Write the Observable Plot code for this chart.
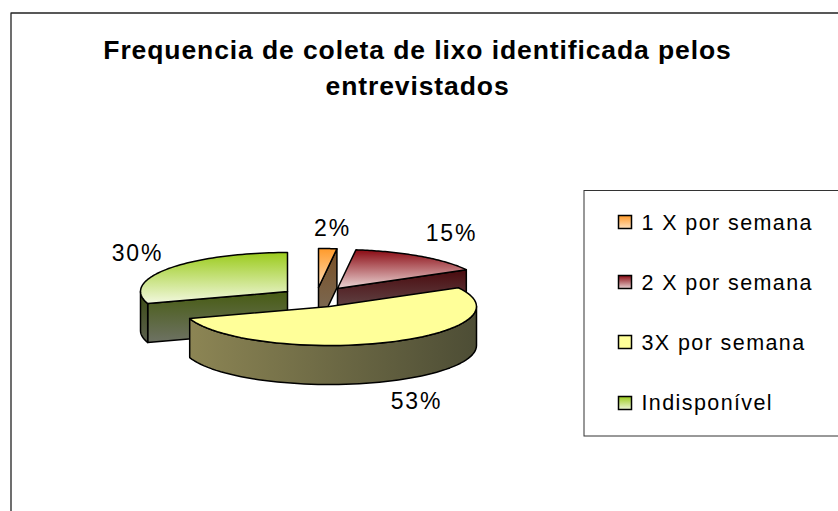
<!DOCTYPE html>
<html><head><meta charset="utf-8">
<script src="https://cdn.jsdelivr.net/npm/d3@7"></script>
<script src="https://cdn.jsdelivr.net/npm/@observablehq/plot@0.6"></script>
<style>
html,body{margin:0;padding:0;background:#fff;overflow:hidden}
svg{display:block;font-family:"Liberation Sans",Arial,sans-serif}
g[font-size="26.5"] text{letter-spacing:.9px}
g[font-size="21.5"] text{letter-spacing:1.4px}
g[font-size="23"] text{letter-spacing:1.8px}
</style></head><body>
<script>
const categories = ["1 X por semana", "2 X por semana", "3X por semana", "Indisponível"];
const shares = [2, 15, 53, 30];
const titleLines = ["Frequencia de coleta de lixo identificada pelos", "entrevistados"];

// layout of the exploded 3D pie, in chart units
const rx = 147, ry = 39, depth = 39;
const apexX = [318, 337, 329, 287];
const apexY = [287, 288, 306, 291];
const topGrad = ["gOrange", "gRed", "gYellow", "gGreen"];
const wallGrad = ["gOrangeW", "gRedW", null, "gGreenW"];
const rimGrad = [null, null, "gYellowR", "gGreenR"];

const arcs = d3.pie().sort(null)(shares);
const rim = (i, a) => [apexX[i] + rx * Math.sin(a), apexY[i] - ry * Math.cos(a)];
const sweep = (a, b) => d3.range(0, 61).map(k => a + (b - a) * k / 60);
const down = ([x, y]) => [x, y + depth];

const shapes = [];
[3, 0, 1, 2].forEach(i => {
  const {startAngle: s, endAngle: e} = arcs[i];
  const apex = [apexX[i], apexY[i]];
  if (wallGrad[i]) {
    const a = i === 3 ? s : e;
    shapes.push({pts: [apex, rim(i, a), down(rim(i, a)), down(apex)], fill: wallGrad[i]});
  }
  if (rimGrad[i]) {
    const lo = Math.max(s, Math.PI / 2), hi = Math.min(e, 3 * Math.PI / 2);
    const top = sweep(lo, hi).map(a => rim(i, a));
    shapes.push({pts: [...top, ...top.slice().reverse().map(down)], fill: rimGrad[i]});
  }
  shapes.push({pts: [apex, ...sweep(s, e).map(a => rim(i, a))], fill: topGrad[i]});
});

const shapeMarks = shapes.map(sh => Plot.line(sh.pts, {
  x: d => d[0], y: d => d[1], curve: "linear-closed",
  fill: `url(#${sh.fill})`, stroke: "#000", strokeWidth: 1.5, strokeLinejoin: "round"
}));

const chart = Plot.plot({
  width: 838, height: 511, margin: 0,
  x: {domain: [0, 838], range: [0, 838], axis: null},
  y: {domain: [0, 511], range: [0, 511], axis: null},
  marks: [
    Plot.line([[10.5, 511], [10.5, 12.5], [838, 12.5]], {x: d => d[0], y: d => d[1], stroke: "#222", strokeWidth: 1.3}),
    ...shapeMarks,
    Plot.text(titleLines, {
      x: 417, y: (d, i) => [58, 94][i], text: d => d, fontSize: 26.5, fontWeight: "bold",
      fill: "#000", textAnchor: "middle", lineAnchor: "bottom"
    }),
    Plot.text(shares, {
      x: (d, i) => [332, 451, 416, 137][i], y: (d, i) => [235, 240, 408, 260][i],
      text: d => d + "%", fontSize: 23, fill: "#000", textAnchor: "middle", lineAnchor: "bottom"
    }),
    Plot.rect([[584, 190.5, 840, 436]], {
      x1: d => d[0], y1: d => d[1], x2: d => d[2], y2: d => d[3],
      fill: "#fff", stroke: "#333", strokeWidth: 1
    }),
    ...categories.map((c, i) => Plot.rect([c], {
      x1: 618.5, x2: 631.5, y1: [215.5, 275.5, 335.5, 396.5][i], y2: [228.5, 288.5, 348.5, 409.5][i],
      fill: `url(#${["lOrange", "lRed", "gYellow", "lGreen"][i]})`, stroke: "#000", strokeWidth: 1.5
    })),
    Plot.text(categories, {
      x: 641, y: (d, i) => [229, 289, 349, 409][i], text: d => d, fontSize: 21.5,
      fill: "#000", textAnchor: "start", lineAnchor: "bottom"
    })
  ]
});

const grad = (id, c0, c1, horiz) =>
  `<linearGradient id="${id}" x1="0" y1="0" x2="${horiz ? 1 : 0}" y2="${horiz ? 0 : 1}">` +
  `<stop offset="0" stop-color="${c0}"/><stop offset="1" stop-color="${c1}"/></linearGradient>`;
d3.select(chart).insert("defs", ":first-child").html([
  grad("gOrange", "#ff9a2a", "#ffddb5"),
  grad("gRed", "#8a0a12", "#ecd6d6"),
  grad("gYellow", "#ffff99", "#ffff99"),
  grad("gGreen", "#9bcb1c", "#f2f8df"),
  grad("gOrangeW", "#7a4f24", "#7b6f5e"),
  grad("gRedW", "#4a0a0e", "#6c6262"),
  grad("gGreenW", "#475c12", "#6e7264"),
  grad("gGreenR", "#3a4a10", "#5c6050"),
  grad("gYellowR", "#8c8554", "#4d4d35", true),
  grad("lOrange", "#ff9a2a", "#ffe0bd"),
  grad("lRed", "#8a0a12", "#e8d2d2"),
  grad("lGreen", "#9bcb1c", "#eef6d8")
].join(""));
document.body.append(chart);
</script>
</body></html>
